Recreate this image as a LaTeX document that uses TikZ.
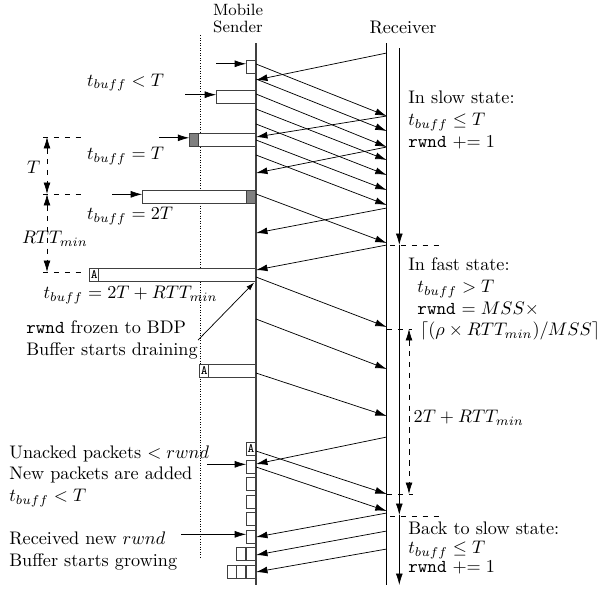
\documentclass[tikz,border=0pt]{standalone}
\usepackage{amssymb}
\usepackage{amsmath}
\usetikzlibrary{arrows.meta, positioning}
\tikzset{
    >={Latex[length=6.3pt,width=3.8pt]}, % filled arrow heads
    pkt/.style={->}, % packets and acks between the two ends
    endline/.style={line width=0.7pt, black!75}, % the sender's time line
    buf/.style={draw=black!75, fill=white, inner sep=0pt, minimum height=7.2pt}, % send buffer
    cell/.style={buf, minimum width=5pt, font=\ttfamily\scriptsize}, % one packet in the buffer
    grey cell/.style={cell, fill=gray}, % packet being sent
    dim/.style={dashed}, % dimension lines
    lbl/.style={inner sep=0pt, align=left}, % text blocks
}

\begin{document}
\begin{tikzpicture}[x=0.55pt, y=-0.55pt]
    \useasboundingbox (0,0) rectangle (598,591);

    % time lines
    \coordinate (snd) at (256,43);
    \coordinate (sndbot) at (256,585);
    \coordinate (rcv) at (386.7,43);
    \coordinate (rcvbot) at (386.7,585);
    \coordinate (clk0) at (399.3,48);
    \coordinate (clk1) at (399.3,245);
    \coordinate (clk2) at (399.3,515);
    \coordinate (clk3) at (399.3,585);
    \coordinate (dot0) at (200,35);
    \coordinate (dot1) at (200,558);
    \draw[endline] (snd) -- (sndbot);
    \draw (rcv) -- (rcvbot);
    \draw[densely dotted] (dot0) -- (dot1);
    \draw[->] (clk0) -- (clk1);
    \draw[->] (clk1) -- (clk2);
    \draw[->] (clk2) -- (clk3);

    \node[font=\small, align=center, inner sep=0pt, anchor=south] (sndlbl) at (238,33.3) {Mobile\\[-1.5pt]Sender};
    \node[inner sep=0pt, anchor=base] (rcvlbl) at (403,33.3) {Receiver};

    % data and acks
    \foreach \a/\b in {64/116, 79/131, 94/147, 109/160, 124/175, 140/190, 155/205, 194/243,
                       277/327, 319/369, 373/416, 451/494, 467/511}
        \draw[pkt] (snd |- 0,\a) -- (rcv |- 0,\b);
    \foreach \a/\b in {53/80, 116/137, 147/173, 208/233, 245/270, 437/464, 513/537, 531/555, 549/572}
        \draw[pkt] (rcv |- 0,\a) -- (snd |- 0,\b);

    % buffers
    \node[cell, anchor=east] (buf1) at (snd |- 0,66.5) {};
    \node[buf, minimum width=21.5pt, anchor=east] (buf2) at (snd |- 0,96.5) {};
    \node[buf, minimum width=36.3pt, anchor=east] (buf3) at (snd |- 0,140) {};
    \node[grey cell, anchor=west] at (buf3.west) {};
    \node[buf, minimum width=62.2pt, anchor=east] (buf4) at (snd |- 0,196.5) {};
    \node[grey cell, anchor=east] at (buf4.east) {};
    \node[buf, minimum width=91.3pt, anchor=east] (buf5) at (snd |- 0,274.5) {};
    \node[cell, anchor=west] at (buf5.west) {A};
    \node[buf, minimum width=30.8pt, anchor=east] (buf6) at (snd |- 0,370.5) {};
    \node[cell, anchor=west] at (buf6.west) {A};
    \node[cell, anchor=east] (qa) at (snd |- 0,449) {A};
    \foreach \y [count=\i] in {466.5,484,501.5,519,536.5}
        \node[cell, anchor=east] (q\i) at (snd |- 0,\y) {};
    \node[cell, anchor=east] (r1) at (snd |- 0,554) {};
    \node[cell, left=0pt of r1] (r2) {};
    \node[cell, anchor=east] (s1) at (snd |- 0,571.5) {};
    \node[cell, left=0pt of s1] (s2) {};
    \node[cell, left=0pt of s2] (s3) {};

    \draw[->] ([xshift=-16.5pt,yshift=1.5pt]buf1.west) -- ([yshift=1.5pt]buf1.west);
    \draw[->] ([xshift=-17pt,yshift=1pt]buf2.west) -- ([yshift=1pt]buf2.west);
    \draw[->] ([xshift=-16.5pt,yshift=1.2pt]buf3.west) -- ([yshift=1.2pt]buf3.west);
    \draw[->] ([xshift=-16.5pt,yshift=1.2pt]buf4.west) -- ([yshift=1.2pt]buf4.west);
    \draw[->] ([xshift=-21.5pt,yshift=1.2pt]q1.west) -- ([yshift=1.2pt]q1.west);
    \draw[->] ([xshift=-35.8pt,yshift=1.2pt]q5.west) -- ([yshift=1.2pt]q5.west);

    % left dimensions
    \coordinate (t0) at (47,137);
    \coordinate (t1) at (47,194);
    \coordinate (t2) at (47,272);
    \draw[dim, <->] (t0) -- (t1);
    \draw[dim, <->] (t1) -- (t2);
    \draw[dim] (43,137) -- (82,137);
    \draw[dim] (43,194) -- (82,194);
    \draw[dim] (43,272) -- (82,272);
    \node[inner sep=0pt, anchor=base west] (tlbl) at (26.7,173.3) {$T$};
    \node[inner sep=0pt, anchor=base west] (rttlbl) at (21.7,243.3) {$RTT_{min}$};

    % right dimensions
    \coordinate (u0) at (409,329);
    \coordinate (u1) at (409,494);
    \draw[dim, <->] (u0) -- (u1);
    \draw[dim] (390,245) -- (443,245);
    \draw[dim] (387,329) -- (412,329);
    \draw[dim] (387,494) -- (413,494);
    \draw[dim] (390,516) -- (443,516);
    \node[inner sep=0pt, anchor=base west] (ulbl) at (413.3,422.3) {$2T + RTT_{min}$};

    % buffer labels
    \node[inner sep=0pt, anchor=base west] (l1) at (86.7,86) {$t_{buff} < T$};
    \node[inner sep=0pt, anchor=base west] (l2) at (86.7,159.3) {$t_{buff} = T$};
    \node[inner sep=0pt, anchor=base west] (l3) at (86.7,219.3) {$t_{buff} = 2T$};
    \node[inner sep=0pt, anchor=base west] (l4) at (43.3,298.3) {$t_{buff} = 2T + RTT_{min}$};
    \node[lbl, anchor=north west] (frozen) at (26,320.5) {\texttt{rwnd} frozen to BDP\\Buffer starts draining};
    \draw[->, >={Latex[length=4.5pt,width=2.8pt]}] (frozen.east) -- ([xshift=-1pt,yshift=-0.6pt]buf5.south east);
    \node[lbl, anchor=north west] (unacked) at (9,445) {Unacked packets $< rwnd$\\New packets are added\\$t_{buff} < T$};
    \node[lbl, anchor=north west] (grow) at (9,531.5) {Received new $rwnd$\\Buffer starts growing};

    % states
    \node[lbl, anchor=north west] (slow) at (408,90.5) {In slow state:\\$t_{buff} \le T$\\\texttt{rwnd} $\mathrel{+}= 1$};
    \node[lbl, anchor=north west] (fast) at (408,257.3) {In fast state:\\\hspace*{5pt}$t_{buff} > T$\\\hspace*{5pt}\texttt{rwnd} $= MSS\times$\\\hspace*{6.5pt}$\lceil(\rho\times RTT_{min})/MSS\rceil$};
    \node[lbl, anchor=north west] (back) at (408,521.7) {Back to slow state:\\[-1.5pt]$t_{buff} \le T$\\[-1.5pt]\texttt{rwnd} $\mathrel{+}= 1$};
\end{tikzpicture}
\end{document}
